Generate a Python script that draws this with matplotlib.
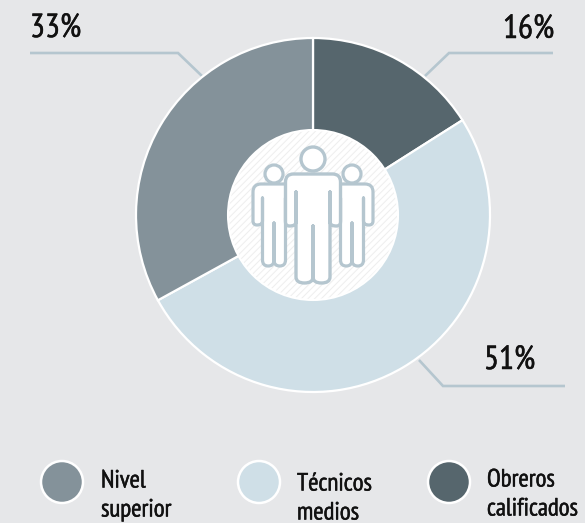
import matplotlib
matplotlib.use("Agg")
import matplotlib.pyplot as plt
import matplotlib.patheffects as pe
from matplotlib.patches import Circle, PathPatch
from matplotlib.path import Path
import logging
logging.getLogger("matplotlib.font_manager").setLevel(logging.ERROR)

H = 523
categories = ["Obreros\ncalificados", "Técnicos\nmedios", "Nivel\nsuperior"]
values = [16, 51, 33]
colors = ["#56666d", "#cfdfe7", "#84929a"]
pct_labels = ["16%", "51%", "33%"]

plt.rcParams["font.family"] = ["PT Sans Narrow", "Roboto Condensed", "Roboto", "DejaVu Sans"]
BG = "#e6e7e9"
LINE = "#b5c6cf"
INK = "#111111"

fig = plt.figure(figsize=(5.85, 5.23), dpi=100, facecolor=BG)
ax = fig.add_axes([0, 0, 1, 1])

def Y(p):
    return H - p

leaders = [[(553, 53), (449, 53), (425, 76)],
           [(565, 386), (443, 386), (419, 360)],
           [(30, 53), (178, 53), (202, 76)]]
for pts in leaders:
    ax.plot([p[0] for p in pts], [Y(p[1]) for p in pts], color=LINE, lw=1.9,
            solid_joinstyle="miter", solid_capstyle="butt", zorder=1)

ax.pie(values, colors=colors, startangle=90, counterclock=False, center=(313, Y(215)),
       radius=177, frame=True, wedgeprops=dict(edgecolor="white", linewidth=1.6, zorder=2))
ax.set_xlim(0, 585)
ax.set_ylim(0, H)
ax.set_aspect("auto")
ax.axis("off")

plt.rcParams["hatch.linewidth"] = 0.7
ax.add_patch(Circle((313, Y(215)), 85, facecolor="white", edgecolor="none", zorder=3))
ax.add_patch(Circle((313, Y(215)), 85, facecolor="none", edgecolor="#eeeeee", hatch="/////", lw=0, zorder=3))
ax.add_patch(Circle((313, Y(215)), 85, facecolor="none", edgecolor="white", lw=1.5, zorder=3))

def person(cx, head_y, head_r, top, half_w, arm_bot, arm_in, arm_top, leg_bot, leg_out, split_top, lw, z):
    ax.add_patch(Circle((cx, Y(head_y)), head_r, facecolor="white", edgecolor=LINE, lw=lw, zorder=z))
    r = 4
    right = [(Path.MOVETO, (cx, top)),
             (Path.LINETO, (cx + half_w - 8, top)),
             (Path.CURVE3, (cx + half_w, top)), (Path.CURVE3, (cx + half_w, top + 8)),
             (Path.LINETO, (cx + half_w, arm_bot - r)),
             (Path.CURVE3, (cx + half_w, arm_bot)), (Path.CURVE3, (cx + half_w - r, arm_bot)),
             (Path.CURVE3, (cx + arm_in, arm_bot)), (Path.CURVE3, (cx + arm_in, arm_bot - r)),
             (Path.LINETO, (cx + arm_in, arm_top)),
             (Path.LINETO, (cx + leg_out, arm_top)),
             (Path.LINETO, (cx + leg_out, leg_bot - 6)),
             (Path.CURVE3, (cx + leg_out, leg_bot)), (Path.CURVE3, (cx + leg_out / 2, leg_bot)),
             (Path.CURVE3, (cx, leg_bot)), (Path.CURVE3, (cx, leg_bot - 6)),
             (Path.LINETO, (cx, split_top))]
    codes = [c for c, _ in right]
    verts = [p for _, p in right]
    m_verts = [(2 * cx - verts[i][0], verts[i][1]) for i in range(len(right) - 2, -1, -1)]
    m_codes = [codes[i] if codes[i] != Path.MOVETO else Path.LINETO for i in range(len(right) - 1, 0, -1)]
    all_v = [(x, Y(y)) for x, y in verts + m_verts]
    ax.add_patch(PathPatch(Path(all_v, codes + m_codes), facecolor="white", edgecolor=LINE,
                           lw=lw, joinstyle="round", zorder=z))

person(274, 174, 9, 184, 21, 225, 11.5, 198, 266, 11.5, 223, 2.3, 4)
person(352, 174, 9, 184, 21, 225, 11.5, 198, 266, 11.5, 223, 2.3, 4)
person(313, 159, 12, 174, 27.5, 226, 17, 192, 283, 17, 226, 2.4, 5)

stroke = [pe.withStroke(linewidth=0.35, foreground=INK)]
pct_pos = [(503, 30), (484, 361), (30, 29)]
for t, (x, y) in zip(pct_labels, pct_pos):
    ax.text(x, Y(y), t, fontsize=24, color=INK, ha="left", va="center", zorder=6, path_effects=stroke)

legend_order = [2, 1, 0]
circle_x = [62, 259, 449]
text_x = [101, 297, 487]
text_y = [481, 484, 480]
for i, cx, tx, ty in zip(legend_order, circle_x, text_x, text_y):
    ax.add_patch(Circle((cx, Y(482)), 21, facecolor=colors[i], edgecolor="white", lw=1.8, zorder=3))
    a, b = categories[i].split("\n")
    ax.text(tx, Y(ty), a, fontsize=18, color=INK, ha="left", va="center", path_effects=stroke)
    ax.text(tx, Y(ty + 29), b, fontsize=18, color=INK, ha="left", va="center", path_effects=stroke)

fig.savefig("out.png", dpi=100, facecolor=BG)
